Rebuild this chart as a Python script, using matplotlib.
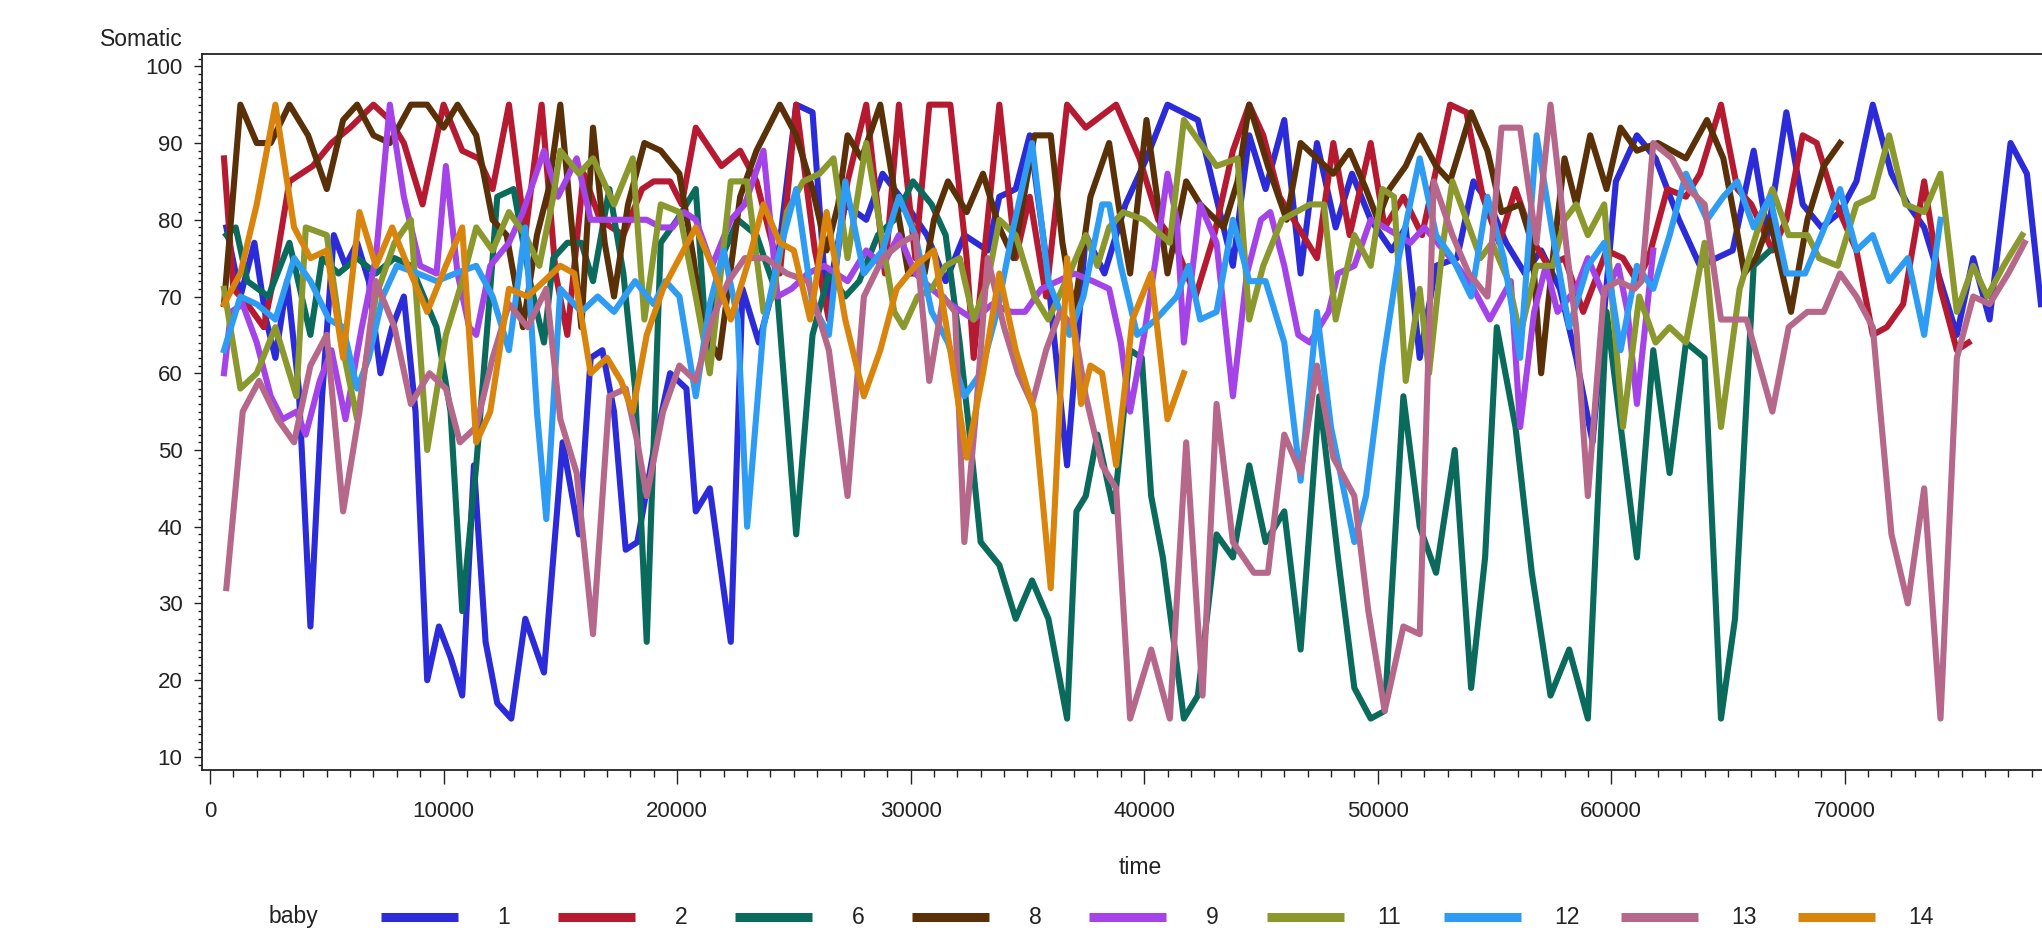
import matplotlib
matplotlib.use('Agg')
import matplotlib.pyplot as plt
from matplotlib.lines import Line2D
from matplotlib.ticker import MultipleLocator

plt.rcParams['font.family'] = ['Liberation Sans', 'DejaVu Sans']

# baby 1
t1 = [700, 1300, 1900, 2400, 2800, 3300, 3800, 4300, 4800, 5300,
      5800, 6300, 6800, 7300, 7800, 8300, 8800,
      9300, 9800, 10300, 10800, 11300, 11800, 12300, 12900, 13500, 14300,
      15100, 15800, 16300, 16800, 17300, 17800, 18300, 19000, 19700, 20400,
      20800, 21400, 22300, 22800, 23500, 24200, 25100, 25800, 26400, 27200,
      28100, 28800, 29800, 30700, 31500, 32300, 33300, 33800, 34500, 35100,
      35800, 36700, 37500, 38300, 39200, 40100, 41000, 42300, 43000, 43800,
      44500, 45200, 46000, 46700, 47400, 48200, 48900, 49700, 50600, 51200,
      51800, 52500, 53400, 54100, 54800, 55500, 56300, 57000, 57800, 58500,
      59200, 60200, 61100, 61900, 62900, 63800, 64500, 65200, 66100, 66700,
      67500, 68200, 69000, 69800, 70500, 71200, 72000, 72700, 73400, 74100,
      74800, 75500, 76200, 77100, 77800, 78400]
y1 = [79, 70, 77, 67, 62, 72, 58, 27, 57, 78,
      74, 77, 72, 60, 66, 70, 55,
      20, 27, 23, 18, 48, 25, 17, 15, 28, 21,
      51, 39, 62, 63, 55, 37, 38, 50, 60, 58,
      42, 45, 25, 71, 64, 72, 95, 94, 69, 82,
      80, 86, 82, 78, 72, 78, 76, 83, 84, 91,
      75, 48, 78, 73, 82, 88, 95, 93, 84, 74,
      91, 84, 93, 73, 90, 79, 86, 80, 76, 79,
      62, 74, 75, 85, 82, 77, 73, 76, 71, 62,
      51, 85, 91, 88, 80, 74, 75, 76, 89, 78,
      94, 82, 79, 81, 85, 95, 86, 82, 79, 72,
      65, 75, 67, 90, 86, 69]

# baby 2
t2 = [600, 1000, 1600, 2300, 2700, 3400, 4400, 5200, 6000, 7000,
      7700, 8300, 9100, 10000, 10800, 11500, 12100, 12800, 13500, 14200,
      14800, 15300, 16000, 16700, 17700, 18500, 19000, 19700, 20200, 20800,
      21900, 22700, 23400, 24400, 25100, 25900, 26500, 27300, 28100, 28900,
      29500, 30200, 30800, 31700, 32400, 32700, 33800, 34500, 35100, 35800,
      36700, 37500, 38800, 39800, 40600, 41300, 42200, 43000, 43800, 44500,
      45100, 45800, 46600, 47400, 48100, 48800, 49700, 50300, 51100, 51900,
      53100, 53800, 54500, 55200, 55900, 56700, 57300, 58000, 58800, 59800,
      60500, 61100, 61600, 62400, 63200, 63800, 64700, 65400, 66000, 66900,
      67500, 68200, 68800, 69500, 70500, 71200, 71800, 72500, 73400, 74100,
      74800, 75300]
y2 = [88, 71, 69, 66, 72, 85, 87, 90, 92, 95,
      93, 90, 82, 95, 89, 88, 84, 95, 78, 95,
      73, 65, 86, 80, 78, 84, 85, 85, 82, 92,
      87, 89, 85, 73, 95, 76, 67, 85, 95, 73,
      95, 75, 95, 95, 75, 62, 95, 75, 83, 70,
      95, 92, 95, 88, 80, 77, 70, 78, 89, 95,
      91, 83, 79, 75, 90, 78, 90, 79, 83, 78,
      95, 94, 83, 77, 84, 77, 74, 75, 68, 76,
      75, 72, 75, 84, 83, 86, 95, 84, 82, 76,
      80, 91, 90, 83, 76, 65, 66, 69, 85, 71,
      63, 64]

# baby 6
t6 = [700, 1100, 1600, 2500, 3400, 4300, 4800, 5500, 6300, 7100,
      7900, 8600, 9700, 10300, 10800, 11400, 11900, 12300, 13000, 13700,
      14300, 14700, 15300, 15900, 16400, 17100, 17700, 18200, 18700, 19300,
      20000, 20800, 21300, 21900, 22600, 23400, 24300, 25100, 25800, 26500,
      27200, 27800, 28600, 29300, 30100, 30900, 31500, 32100, 32600, 33000,
      33800, 34500, 35200, 35900, 36700, 37100, 37500, 38000, 38700, 39400,
      39900, 40300, 40800, 41700, 42300, 43100, 43800, 44500, 45200, 46000,
      46700, 47500, 48300, 49000, 49700, 50300, 51100, 51800, 52500, 53300,
      54000, 54600, 55100, 55900, 56600, 57400, 58200, 59000, 59800, 61100,
      61800, 62500, 63200, 64000, 64700, 65300, 66100, 66800]
y6 = [78, 79, 72, 70, 77, 65, 75, 73, 75, 73,
      75, 74, 66, 55, 29, 48, 67, 83, 84, 72,
      64, 75, 77, 77, 72, 84, 73, 58, 25, 77,
      80, 84, 62, 75, 80, 78, 70, 39, 65, 73,
      70, 72, 78, 80, 85, 82, 78, 64, 50, 38,
      35, 28, 33, 28, 15, 42, 44, 52, 42, 63,
      62, 44, 36, 15, 18, 39, 36, 48, 38, 42,
      24, 57, 36, 19, 15, 16, 57, 40, 34, 50,
      19, 36, 66, 53, 34, 18, 24, 15, 68, 36,
      63, 47, 64, 62, 15, 28, 74, 76]

# baby 8
t8 = [600, 900, 1300, 2000, 2600, 3400, 4200, 5000, 5700, 6300,
      7000, 7700, 8600, 9300, 10000, 10600, 11400, 12100, 12700, 13400,
      14000, 14500, 15000, 15900, 16400, 16900, 17300, 17900, 18600, 19300,
      20100, 20700, 21100, 21800, 22700, 23400, 24400, 25100, 25800, 26400,
      26900, 27300, 27900, 28700, 29400, 29900, 30600, 31000, 31600, 32400,
      33100, 33800, 34400, 35300, 36000, 36500, 37000, 37700, 38500, 39000,
      39400, 40100, 41000, 41800, 42400, 43400, 44000, 44500, 45300, 46100,
      46700, 47400, 48100, 48800, 49500, 50000, 50500, 51200, 51800, 52500,
      53100, 54000, 54700, 55300, 56100, 56600, 57000, 57500, 58000, 58500,
      59100, 59800, 60400, 61100, 62000, 63200, 64100, 64800, 65300, 65700,
      66200, 66800, 67700, 68400, 69100, 69800]
y8 = [69, 80, 95, 90, 90, 95, 91, 84, 93, 95,
      91, 90, 95, 95, 92, 95, 91, 80, 78, 66,
      78, 84, 95, 66, 92, 77, 70, 82, 90, 89,
      86, 75, 66, 62, 83, 89, 95, 91, 84, 76,
      82, 91, 88, 95, 82, 73, 73, 80, 85, 81,
      86, 79, 75, 91, 91, 77, 68, 83, 90, 80,
      73, 93, 73, 85, 82, 79, 85, 95, 87, 80,
      90, 88, 86, 89, 84, 80, 84, 87, 91, 87,
      85, 94, 89, 81, 82, 77, 60, 75, 88, 82,
      91, 84, 92, 89, 90, 88, 93, 88, 80, 73,
      75, 80, 68, 80, 87, 90]

# baby 9
t9 = [600, 900, 1400, 2000, 2600, 3100, 3700, 4100, 4700, 5200,
      5800, 6500, 7100, 7700, 8300, 9000, 9700, 10100, 10600, 11100,
      11400, 12000, 12800, 13400, 14300, 14900, 15700, 16300, 17000, 17700,
      18700, 19300, 19800, 20300, 20800, 21500, 22300, 22900, 23700, 24300,
      24900, 25600, 26300, 27300, 28100, 28800, 29500, 30200, 30900, 31700,
      32700, 33500, 34300, 34900, 35600, 36300, 37000, 37800, 38500, 39000,
      39400, 40000, 40500, 41000, 41400, 41700, 42400, 43100, 43800, 44400,
      45000, 45400, 46000, 46600, 47100, 47900, 48300, 49000, 49700, 50300,
      51400, 52000, 53400, 54100, 54800, 55700, 56100, 56700, 57200, 57700,
      58500, 59000, 59700, 60300, 60700, 61100, 61800]
y9 = [60, 68, 69, 64, 57, 54, 55, 52, 59, 63,
      54, 66, 75, 95, 83, 74, 73, 87, 73, 66,
      65, 74, 77, 81, 89, 83, 88, 80, 80, 80,
      80, 79, 79, 81, 80, 74, 80, 82, 89, 70,
      71, 73, 74, 72, 76, 74, 78, 73, 71, 69,
      67, 69, 68, 68, 71, 72, 73, 72, 71, 64,
      55, 65, 75, 86, 80, 64, 82, 77, 57, 73,
      80, 81, 74, 65, 64, 68, 73, 74, 80, 79,
      77, 79, 74, 71, 67, 72, 53, 68, 74, 68,
      71, 75, 70, 74, 68, 56, 76]

# baby 11
t11 = [600, 1300, 2000, 2800, 3700, 4100, 5000, 5700, 6300, 7100,
       7900, 8600, 9300, 10100, 10800, 11400, 12100, 12800, 13500, 14100,
       14700, 15000, 15800, 16400, 17300, 18100, 18600, 19300, 20100, 20800,
       21400, 22300, 23000, 23700, 24100, 24700, 25400, 26100, 26700, 27300,
       28100, 28700, 29300, 29700, 30300, 30900, 31500, 32100, 32700, 33300,
       33800, 34500, 35300, 35900, 36800, 37500, 38000, 38500, 39100, 40000,
       41100, 41700, 42400, 43100, 44000, 44500, 45100, 45900, 46500, 47100,
       47700, 48200, 49000, 49700, 50200, 50700, 51200, 51800, 52200, 52800,
       53200, 53800, 54400, 54900, 55600, 56100, 56800, 57500, 58000, 58500,
       59000, 59700, 60500, 61200, 61900, 62500, 63200, 64000, 64700, 65500,
       66300, 66900, 67600, 68400, 68900, 69700, 70500, 71200, 71900, 72600,
       73400, 74100, 74800, 75500, 76100, 76800, 77600]
y11 = [71, 58, 60, 66, 57, 79, 78, 63, 54, 70,
       77, 80, 50, 65, 72, 79, 76, 81, 78, 74,
       83, 89, 86, 88, 82, 88, 67, 82, 81, 70,
       60, 85, 85, 68, 70, 81, 85, 86, 88, 75,
       90, 79, 68, 66, 70, 71, 74, 75, 67, 72,
       80, 78, 70, 67, 73, 78, 74, 79, 81, 80,
       77, 93, 90, 87, 88, 67, 74, 80, 81, 82,
       82, 67, 78, 74, 84, 83, 59, 71, 60, 77,
       85, 80, 75, 77, 72, 65, 74, 74, 80, 82,
       78, 82, 53, 70, 64, 66, 64, 77, 53, 71,
       79, 84, 78, 78, 75, 74, 82, 83, 91, 82,
       81, 86, 68, 74, 70, 74, 78]

# baby 12
t12 = [600, 1300, 2000, 2800, 3600, 4300, 5100, 5700, 6300, 6800,
       7400, 8000, 8900, 9700, 10500, 11400, 12100, 12800, 13500, 14000,
       14400, 15000, 15900, 16600, 17300, 18200, 19000, 19500, 20100, 20800,
       21400, 22000, 22600, 23000, 23700, 24400, 25100, 25800, 26500, 27200,
       28000, 28800, 29500, 30200, 30900, 31600, 32300, 33000, 33700, 34400,
       35200, 35900, 36800, 37400, 38200, 38500, 39000, 39700, 40500, 41400,
       41900, 42400, 43100, 43800, 44500, 45200, 46000, 46700, 47400, 48000,
       49000, 49500, 50200, 50900, 51800, 52500, 53200, 54000, 54700, 55400,
       56100, 56800, 57500, 58200, 59000, 59700, 60400, 61100, 61800, 62500,
       63200, 64100, 64800, 65400, 66100, 66800, 67500, 68300, 69000, 69800,
       70500, 71200, 71900, 72700, 73400, 74100]
y12 = [63, 70, 69, 67, 75, 72, 67, 66, 58, 62,
       70, 74, 73, 72, 73, 74, 70, 63, 79, 55,
       41, 71, 68, 70, 68, 72, 69, 72, 70, 57,
       69, 76, 67, 40, 66, 76, 84, 69, 65, 85,
       73, 76, 83, 78, 68, 64, 57, 60, 68, 79,
       90, 72, 65, 70, 82, 82, 74, 65, 67, 70,
       74, 67, 68, 80, 72, 72, 64, 46, 68, 53,
       38, 44, 61, 75, 88, 78, 75, 70, 83, 75,
       62, 91, 78, 66, 74, 77, 63, 74, 71, 78,
       86, 80, 83, 85, 79, 83, 73, 73, 78, 84,
       76, 78, 72, 75, 65, 80]

# baby 13
t13 = [700, 1400, 2100, 2900, 3600, 4300, 5000, 5700, 6400, 7100,
       7900, 8600, 9400, 10100, 10700, 11400, 12100, 12800, 13600, 14400,
       15000, 15700, 16400, 17100, 17800, 18300, 18700, 19400, 20100, 20800,
       21500, 22200, 22900, 23800, 24700, 25600, 26500, 27300, 28000, 28800,
       29600, 30200, 30800, 31400, 31900, 32300, 32800, 33300, 34000, 34600,
       35200, 35800, 36400, 37000, 37500, 38200, 38800, 39400, 40300, 41100,
       41800, 42500, 43100, 43800, 44700, 45300, 46000, 46700, 47400, 48100,
       49000, 49600, 50300, 51100, 51800, 52400, 53200, 53900, 54700, 55300,
       56100, 56800, 57400, 58100, 58500, 59000, 59700, 60300, 61000, 61300,
       61800, 62600, 63300, 64000, 64700, 65800, 66900, 67600, 68400, 69100,
       69800, 70500, 71200, 72000, 72700, 73400, 74100, 74800, 75500, 76200,
       77000, 77700]
y13 = [32, 55, 59, 54, 51, 61, 65, 42, 55, 72,
       66, 56, 60, 58, 51, 53, 62, 69, 66, 71,
       54, 47, 26, 57, 58, 51, 44, 55, 61, 59,
       67, 72, 75, 75, 73, 72, 63, 44, 70, 75,
       77, 78, 59, 70, 68, 38, 55, 75, 66, 60,
       56, 63, 68, 66, 57, 48, 45, 15, 24, 15,
       51, 18, 56, 38, 34, 34, 52, 47, 61, 49,
       44, 29, 16, 27, 26, 85, 78, 73, 70, 92,
       92, 77, 95, 76, 66, 44, 71, 72, 71, 72,
       90, 88, 84, 82, 67, 67, 55, 66, 68, 68,
       73, 70, 66, 39, 30, 45, 15, 62, 70, 69,
       73, 77]

# baby 14
t14 = [600, 1300, 2000, 2800, 3600, 4300, 5000, 5700, 6400, 7100,
       7800, 8600, 9300, 10100, 10800, 11400, 12000, 12800, 13600, 14300,
       15000, 15600, 16300, 17000, 17600, 18100, 18700, 19400, 20100, 20800,
       21500, 22300, 23000, 23700, 24400, 25000, 25700, 26400, 27200, 28000,
       28700, 29400, 30200, 31000, 31700, 32400, 33100, 33800, 34500, 35300,
       36000, 36700, 37300, 37700, 38200, 38800, 39500, 40300, 41000, 41700]
y14 = [69, 73, 82, 95, 79, 75, 76, 62, 81, 74,
       79, 73, 68, 74, 79, 51, 55, 71, 70, 72,
       74, 73, 60, 62, 59, 55, 65, 71, 75, 79,
       74, 67, 74, 82, 77, 76, 67, 81, 67, 57,
       63, 71, 74, 76, 63, 49, 60, 73, 63, 55,
       32, 75, 56, 61, 60, 48, 67, 73, 54, 60]

babies = ['1', '2', '6', '8', '9', '11', '12', '13', '14']
times = [t1, t2, t6, t8, t9, t11, t12, t13, t14]
somatic = [y1, y2, y6, y8, y9, y11, y12, y13, y14]
colors = ['#2B2BD9', '#B51A30', '#0A6B5C', '#5A3008', '#A443E8',
          '#8A982E', '#2E9CF2', '#B6688A', '#D9840C']

W, H = 2042, 940
fig = plt.figure(figsize=(W / 100, H / 100), dpi=100)
fig.patch.set_facecolor('white')

# the plot area runs past the right edge of the picture, as in the original
ax = fig.add_axes([202 / W, 170 / H, 1923 / W, 716 / H])
for t, v, c in zip(times, somatic, colors):
    ax.plot(t, v, color=c, lw=4.4)

ax.set_xlim(-343, 82000)
ax.set_ylim(8.3, 101.6)
ax.xaxis.set_major_locator(MultipleLocator(10000))
ax.xaxis.set_minor_locator(MultipleLocator(1000))
ax.yaxis.set_major_locator(MultipleLocator(10))
ax.yaxis.set_minor_locator(MultipleLocator(1))
ax.ticklabel_format(style='plain', useOffset=False)

for side in ['top', 'left', 'bottom']:
    ax.spines[side].set_color('#222222')
    ax.spines[side].set_linewidth(1.3)
ax.spines['right'].set_visible(False)

ax.tick_params(axis='x', which='major', length=10, width=1, pad=12, labelsize=16, colors='#222222')
ax.tick_params(axis='x', which='minor', length=5, width=1, colors='#222222')
ax.tick_params(axis='y', which='major', length=6, width=1, pad=8, labelsize=16, colors='#222222')
ax.tick_params(axis='y', which='minor', length=3, width=1, colors='#222222')

fig.text(183 / W, 1 - 46 / H, 'Somatic', ha='right', va='baseline', fontsize=16.5, color='#222222')
fig.text(1140 / W, 1 - 867 / H, 'time', ha='center', va='center', fontsize=16.5, color='#222222')

# legend row
ly = 1 - 917 / H
fig.text(293 / W, ly, 'baby', ha='center', va='center', fontsize=16.5, color='#222222')
step = 177.1
for i, (name, c) in enumerate(zip(babies, colors)):
    x0 = 381 + step * i
    fig.add_artist(Line2D([x0 / W, (x0 + 77) / W], [ly, ly], transform=fig.transFigure,
                          color=c, lw=6.5, solid_capstyle='butt'))
    fig.text((x0 + 123) / W, ly, name, ha='center', va='center', fontsize=16.5, color='#222222')

fig.savefig('out.png', dpi=100, facecolor='white')
